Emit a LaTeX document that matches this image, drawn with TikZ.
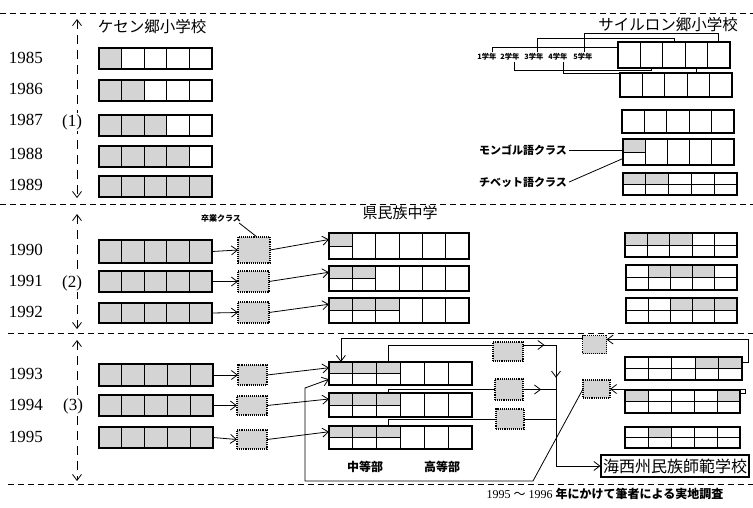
\documentclass[tikz,border=0pt]{standalone}
\usepackage{fontspec}
\setmainfont{Liberation Serif}
\newfontfamily\jp{Noto Sans CJK JP}
\usetikzlibrary{arrows.meta,calc,decorations.markings}
\tikzset{
  rowb/.style={draw, line width=1.1pt, inner sep=0pt, outer sep=0pt},
  cellln/.style={line width=0.9pt},
  shd/.style={fill=black!17},
  gbox/.style={draw, densely dotted, line width=1.1pt, fill=black!17, inner sep=0pt, outer sep=0pt},
  conn/.style={line width=0.8pt},
  arr/.style={conn, >={Straight Barb[length=6pt,width=9pt]}, ->},
  midarr/.style={conn, postaction={decorate}, decoration={markings, mark=at position #1 with {\arrow{Straight Barb[length=6pt,width=9pt]}}}},
  midarr/.default=0.6,
  sep/.style={dash pattern=on 6pt off 4pt, line width=0.8pt},
  secarr/.style={dash pattern=on 9pt off 6pt, line width=0.8pt, >={Straight Barb[length=6pt,width=9pt]}, <->},
  yr/.style={font=\fontsize{17}{17}\selectfont, inner sep=1pt},
  ttl/.style={font=\jp\fontsize{15.5}{16}\selectfont, inner sep=1pt},
  lbl/.style={font=\jp\bfseries\fontsize{11}{12}\selectfont, inner sep=2pt},
  grd/.style={font=\jp\bfseries\fontsize{7.3}{8}\selectfont, inner sep=1pt},
}
\newcommand{\cellrow}[8]{%
  \pgfmathsetmacro\cw{#4/#6}%
  \foreach \i/\s in {#8}{%
    \ifnum\i>0
      \ifnum\s=1
        \fill[shd] ({#2+(\i-1)*\cw},#3) rectangle ({#2+\i*\cw},{#3+#5/2});
      \else
        \fill[shd] ({#2+(\i-1)*\cw},#3) rectangle ({#2+\i*\cw},{#3+#5});
      \fi
    \fi
  }%
  \node[rowb, minimum width=#4pt, minimum height=#5pt, anchor=north west] (#1) at (#2,#3) {};%
  \foreach \i in {1,...,#6}{%
    \coordinate (#1-t\i) at ({#2+(\i-0.5)*\cw},#3);
    \coordinate (#1-b\i) at ({#2+(\i-0.5)*\cw},{#3+#5});
    \ifnum\i<#6 \draw[cellln] ({#2+\i*\cw},#3) -- ({#2+\i*\cw},{#3+#5});\fi
  }%
  \ifnum#7>0 \draw[cellln] (#2,{#3+#5/2}) -- ({#2+#7*\cw},{#3+#5/2});\fi
  \coordinate (#1-wt) at (#2,{#3+#5/4});%
  \coordinate (#1-wb) at (#2,{#3+3*#5/4});%
}
\begin{document}
\begin{tikzpicture}[x=1pt,y=-1pt]
\useasboundingbox (0,0) rectangle (753,507);
% separators
\draw[sep] (0,13) -- (753,13);
\draw[sep] (0,204) -- (753,204);
\draw[sep] (8,333) -- (753,333);
\draw[sep] (8,484) -- (753,484);
% period arrows
\coordinate (p1a) at (77,19); \coordinate (p1b) at (77,198);
\coordinate (p2a) at (77,214); \coordinate (p2b) at (77,329);
\coordinate (p3a) at (77,340); \coordinate (p3b) at (77,481);
\draw[secarr] (p1a) -- (p1b);
\draw[secarr] (p2a) -- (p2b);
\draw[secarr] (p3a) -- (p3b);
\node[yr, fill=white] (per1) at (72,122) {(1)};
\node[yr, fill=white] (per2) at (72,283) {(2)};
\node[yr, fill=white] (per3) at (73,406) {(3)};
% years
\foreach \yy/\yv in {1985/58,1986/89,1987/120,1988/154,1989/185,1990/250,1991/281,1992/312,1993/374,1994/405,1995/437}
  \node[yr] (yr\yy) at (26,\yv) {\yy};
% titles
\node[ttl] (ket) at (152,27) {ケセン郷小学校};
\node[ttl] (sai) at (668,25) {サイルロン郷小学校};
\node[ttl, font=\jp\fontsize{15}{16}\selectfont] (ken) at (400,213) {県民族中学};
% Ketsen rows
\cellrow{K85}{99}{48}{113}{21}{5}{0}{1/2}
\cellrow{K86}{99}{80}{113}{21}{5}{0}{1/2,2/2}
\cellrow{K87}{99}{115}{113}{21}{5}{0}{1/2,2/2,3/2}
\cellrow{K88}{99}{146}{113}{21}{5}{0}{1/2,2/2,3/2,4/2}
\cellrow{K89}{99}{176}{113}{21}{5}{0}{1/2,2/2,3/2,4/2,5/2}
\cellrow{K90}{99}{240}{113}{23}{5}{0}{1/2,2/2,3/2,4/2,5/2}
\cellrow{K91}{99}{271}{113}{21}{5}{0}{1/2,2/2,3/2,4/2,5/2}
\cellrow{K92}{99}{303}{113}{20}{5}{0}{1/2,2/2,3/2,4/2,5/2}
\cellrow{K93}{99}{364}{114}{22}{5}{0}{1/2,2/2,3/2,4/2,5/2}
\cellrow{K94}{99}{395}{114}{21}{5}{0}{1/2,2/2,3/2,4/2,5/2}
\cellrow{K95}{99}{427}{114}{21}{5}{0}{1/2,2/2,3/2,4/2,5/2}
% graduating classes
\node[gbox, minimum width=32pt, minimum height=26pt] (G90) at (254,250) {};
\node[gbox, minimum width=31pt, minimum height=21pt] (G91) at (253.5,281.5) {};
\node[gbox, minimum width=31pt, minimum height=21pt] (G92) at (253.5,312.5) {};
\node[gbox, minimum width=29pt, minimum height=20pt] (G93) at (252.5,375) {};
\node[gbox, minimum width=30pt, minimum height=19pt] (G94) at (252,405.5) {};
\node[gbox, minimum width=30pt, minimum height=19pt] (G95) at (252,439.5) {};
\node[font=\jp\bfseries\fontsize{8}{9}\selectfont, inner sep=1pt] (grad) at (221,218) {卒業クラス};
\draw[conn] ([xshift=-3pt]grad.south east) -- ([xshift=3pt]G90.north);
\foreach \r in {90,91,92,93,94,95}{
  \draw[arr] (K\r.east) -- (G\r.west);
}
% middle school rows
\cellrow{M90}{329}{233}{140}{26}{6}{1}{1/1}
\cellrow{M91}{329}{266}{140}{25}{6}{2}{1/1,2/1}
\cellrow{M92}{329}{298}{140}{25}{6}{3}{1/1,2/1,3/1}
\cellrow{M93}{329}{362}{143}{23}{6}{3}{1/1,2/1,3/1}
\cellrow{M94}{329}{393}{143}{24}{6}{3}{1/1,2/1,3/1}
\cellrow{M95}{329}{426}{143}{23}{6}{3}{1/1,2/1,3/1}
\foreach \r in {90,91,92,93,94,95}{
  \draw[arr] (G\r.east) -- (M\r-wt);
}
\node[font=\jp\bfseries\fontsize{12}{13}\selectfont] (chu) at (365,467) {中等部};
\node[font=\jp\bfseries\fontsize{12}{13}\selectfont] (kou) at (442,467) {高等部};
% Sairon rows
\cellrow{S85}{618}{42}{112}{26}{5}{0}{0/0}
\cellrow{S86}{620}{73}{112}{24}{5}{0}{0/0}
\cellrow{S87}{622}{110}{112}{23}{5}{0}{0/0}
\cellrow{S88}{623}{139}{111}{26}{5}{1}{1/1}
\cellrow{S89}{623}{173}{114}{22}{5}{5}{1/1,2/1}
\cellrow{S90}{625}{233}{112}{24}{5}{5}{1/1,2/1,3/1}
\cellrow{S91}{626}{265}{111}{25}{5}{5}{2/1,3/1,4/1}
\cellrow{S92}{626}{298}{111}{25}{5}{5}{3/1,4/1,5/1}
\cellrow{S93}{625}{357}{117}{23}{5}{5}{4/1,5/1}
\cellrow{S94}{625}{390}{115}{23}{5}{5}{1/1,5/1}
\cellrow{S95}{625}{427}{115}{21}{5}{5}{2/1}
% grade labels
\node[grd] (g1) at (487,57) {1学年};
\node[grd] (g2) at (510,57) {2学年};
\node[grd] (g3) at (534,57) {3学年};
\node[grd] (g4) at (558,57) {4学年};
\node[grd] (g5) at (583,57) {5学年};
\draw[conn] ([xshift=5pt]g1.north) |- ([yshift=-5pt]S85.north west);
\draw[conn] ([xshift=3pt]g3.north) |- ([yshift=4pt]S85-t3) -- (S85-t3);
\draw[conn] ([xshift=1pt]g5.north) |- ([yshift=9pt]S85-t5) -- (S85-t5);
\draw[conn] ([xshift=4pt]g2.south) |- ([yshift=-2pt]S85-b2) -- (S85-b2);
\draw[conn] ([xshift=5pt]g4.south) |- ([yshift=-5pt]S85-b4) -- (S85-b4);
% language classes
\node[lbl] (mong) at (523,150) {モンゴル語クラス};
\node[lbl] (tib) at (523,182) {チベット語クラス};
\draw[conn] (mong.east) -- (mong.east -| S88.west);
\draw[conn] (tib.east) -- (S88-wb);
% graduates of middle school junior section
\node[gbox, minimum width=30pt, minimum height=19pt] (C1) at (508,351.5) {};
\node[gbox, minimum width=28pt, minimum height=21pt] (C2) at (509,389.5) {};
\node[gbox, minimum width=28pt, minimum height=20pt] (C3) at (510,419) {};
\node[gbox, minimum width=24pt, minimum height=18pt] (A) at (594.5,344.5) {};
\node[gbox, minimum width=27pt, minimum height=18pt] (B) at (596.5,389) {};
\node[draw, line width=1.1pt, inner xsep=2pt, inner ysep=1pt, minimum height=22pt, font=\jp\fontsize{16}{17}\selectfont] (H) at (675,466) {海西州民族師範学校};
\coordinate (vtop) at (556,345);
\coordinate (vbot) at (556,466);
\draw[conn] (M93-t3) |- ([yshift=-3pt]C1.north west);
\draw[conn] (M94-t3) |- (C2.west);
\draw[conn] (M95-t3) |- (C3.west);
\draw[midarr=0.65] ([yshift=-3pt]C1.north east) -- (vtop);
\draw[midarr=0.55] (C2.east) -- (C2.east -| vtop);
\draw[conn] (C3.east) -- (C3.east -| vtop);
\draw[midarr=0.27] (vtop) -- (vbot);
\draw[arr] (vbot) -- (H.west);
% Sairon graduates
\draw[arr] ([yshift=-5pt]S93.north east) -- ++(6,0) |- ([yshift=-4pt]A.north east);
\draw[arr] ([yshift=-3pt]A.north west) -| (M93-t1);
\draw[arr] ([yshift=-3pt]S94.north east) -- ++(5,0) |- (B.east);
\coordinate (bb1) at (533,481);
\coordinate (bb2) at (305,481);
\coordinate (bb3) at (305,388);
\draw[arr] (B.west) -- (bb1) -- (bb2) -- (bb3) -- (M93-wb);
% note
\node[font=\fontsize{12}{13}\selectfont, inner sep=1pt] (note) at (605,494) {1995 {\jp ～} 1996 {\jp\bfseries 年にかけて筆者による実地調査}};
\end{tikzpicture}
\end{document}
